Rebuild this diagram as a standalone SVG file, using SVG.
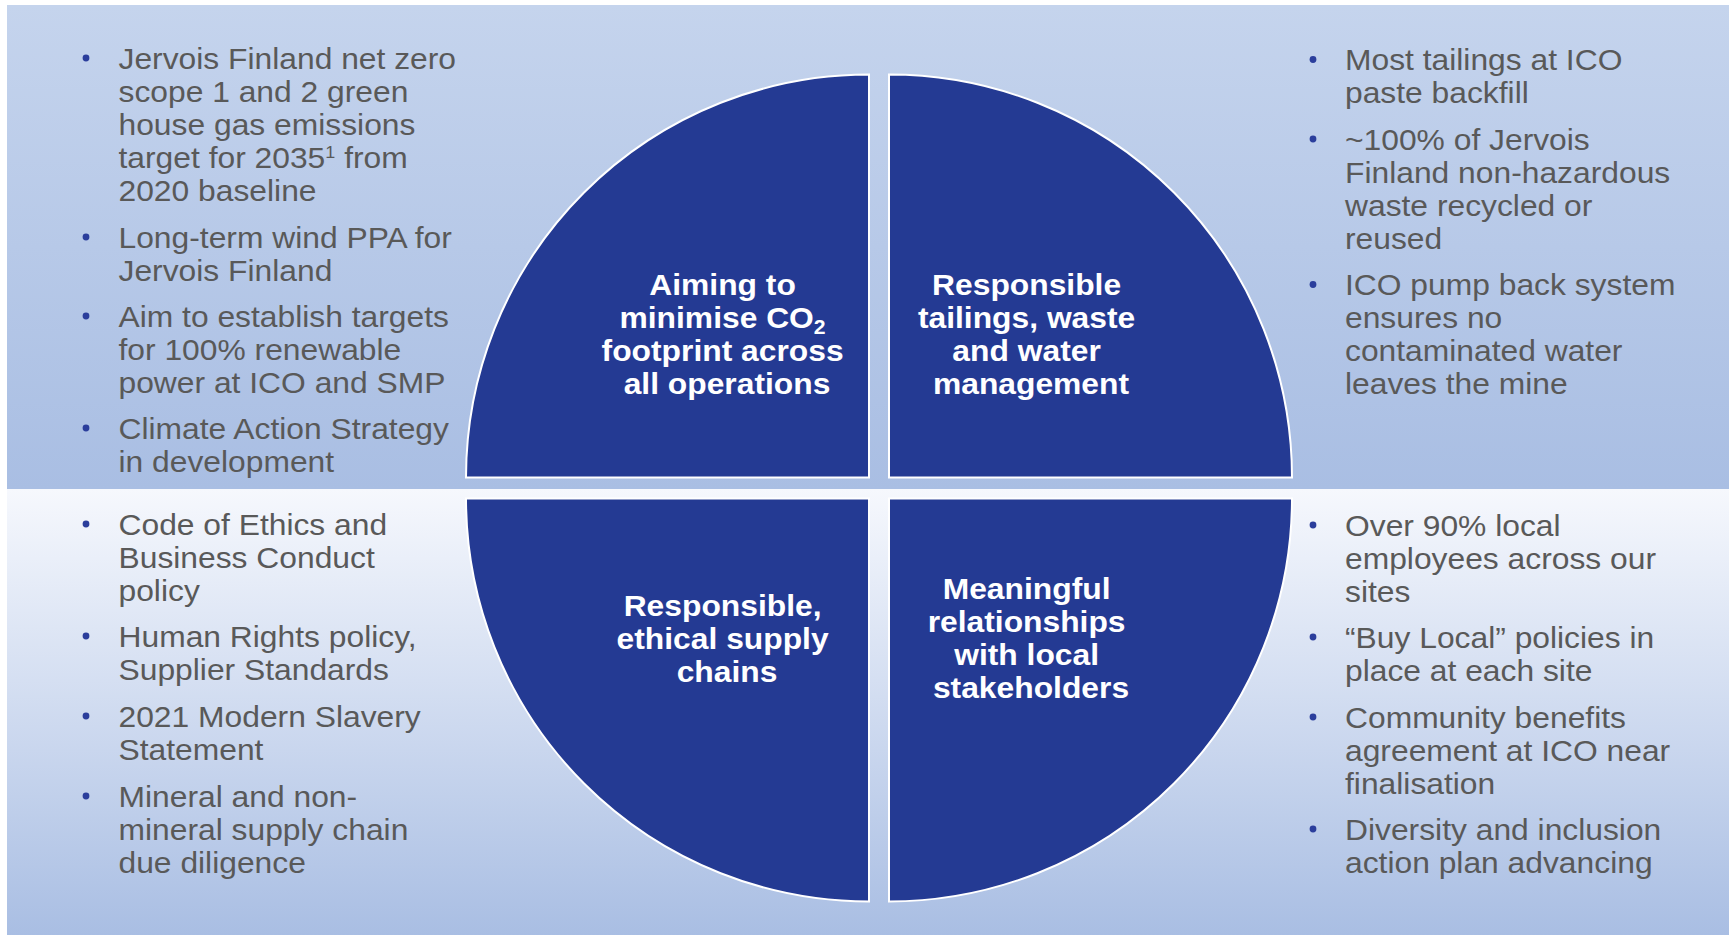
<svg xmlns="http://www.w3.org/2000/svg" width="1729" height="935" viewBox="0 0 1729 935">
  <defs>
    <linearGradient id="bgTop" x1="0" y1="0" x2="0" y2="1">
      <stop offset="0" stop-color="#C5D4ED"/>
      <stop offset="1" stop-color="#A9BEE3"/>
    </linearGradient>
    <linearGradient id="bgBottom" x1="0" y1="0" x2="0" y2="1">
      <stop offset="0" stop-color="#F6F8FD"/>
      <stop offset="1" stop-color="#A9BEE3"/>
    </linearGradient>
  </defs>
  <style>
    .quad { fill: #243A93; stroke: #FFFFFF; stroke-width: 2; }
    .label { font-family: "Liberation Sans", Arial, sans-serif; font-weight: bold; font-size: 30px; fill: #FFFFFF; text-anchor: middle; }
    .note { font-family: "Liberation Sans", Arial, sans-serif; font-size: 30px; fill: #595959; }
    .dot { fill: #2B3E9C; }
  </style>

  <!-- backdrop -->
  <rect x="0" y="0" width="1729" height="935" fill="#FFFFFF"/>
  <rect x="7" y="5" width="1722" height="484" fill="url(#bgTop)"/>
  <rect x="7" y="489" width="1722" height="446" fill="url(#bgBottom)"/>

  <!-- climate quadrant -->
  <g id="quad-climate">
    <path class="quad" d="M 869 477.5 L 466 477.5 A 403 403 0 0 1 869 74.5 Z"/>
    <text class="label" transform="translate(727 0) scale(1.06 1)">
      <tspan x="0" y="295.5">Aiming to</tspan>
      <tspan x="0" y="328">minimise CO<tspan font-size="20" dy="6">2</tspan></tspan>
      <tspan x="0" y="361">footprint across</tspan>
      <tspan x="0" y="394">all operations</tspan>
    </text>
  </g>

  <!-- tailings quadrant -->
  <g id="quad-tailings">
    <path class="quad" d="M 889 477.5 L 889 74.5 A 403 403 0 0 1 1292 477.5 Z"/>
    <text class="label" transform="translate(1031 0) scale(1.06 1)">
      <tspan x="0" y="295.5">Responsible</tspan>
      <tspan x="0" y="328">tailings, waste</tspan>
      <tspan x="0" y="361">and water</tspan>
      <tspan x="0" y="394">management</tspan>
    </text>
  </g>

  <!-- supply chain quadrant -->
  <g id="quad-supply">
    <path class="quad" d="M 869 498.5 L 869 901.5 A 403 403 0 0 1 466 498.5 Z"/>
    <text class="label" transform="translate(727 0) scale(1.06 1)">
      <tspan x="0" y="616.5">Responsible,</tspan>
      <tspan x="0" y="649.5">ethical supply</tspan>
      <tspan x="0" y="682.5">chains</tspan>
    </text>
  </g>

  <!-- stakeholders quadrant -->
  <g id="quad-stakeholders">
    <path class="quad" d="M 889 498.5 L 1292 498.5 A 403 403 0 0 1 889 901.5 Z"/>
    <text class="label" transform="translate(1031 0) scale(1.06 1)">
      <tspan x="0" y="599">Meaningful</tspan>
      <tspan x="0" y="632">relationships</tspan>
      <tspan x="0" y="665">with local</tspan>
      <tspan x="0" y="698">stakeholders</tspan>
    </text>
  </g>

  <!-- climate notes -->
  <g id="notes-climate">
    <circle class="dot" cx="86" cy="58" r="3.4"/>
    <circle class="dot" cx="86" cy="237" r="3.4"/>
    <circle class="dot" cx="86" cy="316" r="3.4"/>
    <circle class="dot" cx="86" cy="428" r="3.4"/>
    <text class="note" transform="translate(118.5 0) scale(1.06 1)">
      <tspan x="0" y="69">Jervois Finland net zero</tspan>
      <tspan x="0" y="102">scope 1 and 2 green</tspan>
      <tspan x="0" y="135">house gas emissions</tspan>
      <tspan x="0" y="168">target for 2035<tspan font-size="17" dy="-10">1</tspan><tspan dy="10"> from</tspan></tspan>
      <tspan x="0" y="201">2020 baseline</tspan>
      <tspan x="0" y="248">Long-term wind PPA for</tspan>
      <tspan x="0" y="281">Jervois Finland</tspan>
      <tspan x="0" y="327">Aim to establish targets</tspan>
      <tspan x="0" y="360">for 100% renewable</tspan>
      <tspan x="0" y="393">power at ICO and SMP</tspan>
      <tspan x="0" y="439">Climate Action Strategy</tspan>
      <tspan x="0" y="472">in development</tspan>
    </text>
  </g>

  <!-- tailings notes -->
  <g id="notes-tailings">
    <circle class="dot" cx="1313" cy="59.5" r="3.4"/>
    <circle class="dot" cx="1313" cy="139" r="3.4"/>
    <circle class="dot" cx="1313" cy="284.5" r="3.4"/>
    <text class="note" transform="translate(1345 0) scale(1.06 1)">
      <tspan x="0" y="70.5">Most tailings at ICO</tspan>
      <tspan x="0" y="103.5">paste backfill</tspan>
      <tspan x="0" y="150">~100% of Jervois</tspan>
      <tspan x="0" y="183">Finland non-hazardous</tspan>
      <tspan x="0" y="216">waste recycled or</tspan>
      <tspan x="0" y="249">reused</tspan>
      <tspan x="0" y="295.5">ICO pump back system</tspan>
      <tspan x="0" y="328.5">ensures no</tspan>
      <tspan x="0" y="361.5">contaminated water</tspan>
      <tspan x="0" y="394.5">leaves the mine</tspan>
    </text>
  </g>

  <!-- supply chain notes -->
  <g id="notes-supply">
    <circle class="dot" cx="86" cy="524" r="3.4"/>
    <circle class="dot" cx="86" cy="636" r="3.4"/>
    <circle class="dot" cx="86" cy="716" r="3.4"/>
    <circle class="dot" cx="86" cy="796" r="3.4"/>
    <text class="note" transform="translate(118.5 0) scale(1.06 1)">
      <tspan x="0" y="535">Code of Ethics and</tspan>
      <tspan x="0" y="568">Business Conduct</tspan>
      <tspan x="0" y="601">policy</tspan>
      <tspan x="0" y="647">Human Rights policy,</tspan>
      <tspan x="0" y="680">Supplier Standards</tspan>
      <tspan x="0" y="727">2021 Modern Slavery</tspan>
      <tspan x="0" y="760">Statement</tspan>
      <tspan x="0" y="807">Mineral and non-</tspan>
      <tspan x="0" y="840">mineral supply chain</tspan>
      <tspan x="0" y="873">due diligence</tspan>
    </text>
  </g>

  <!-- stakeholder notes -->
  <g id="notes-stakeholders">
    <circle class="dot" cx="1313" cy="525" r="3.4"/>
    <circle class="dot" cx="1313" cy="637" r="3.4"/>
    <circle class="dot" cx="1313" cy="717" r="3.4"/>
    <circle class="dot" cx="1313" cy="829" r="3.4"/>
    <text class="note" transform="translate(1345 0) scale(1.06 1)">
      <tspan x="0" y="536">Over 90% local</tspan>
      <tspan x="0" y="569">employees across our</tspan>
      <tspan x="0" y="602">sites</tspan>
      <tspan x="0" y="648">“Buy Local” policies in</tspan>
      <tspan x="0" y="681">place at each site</tspan>
      <tspan x="0" y="728">Community benefits</tspan>
      <tspan x="0" y="761">agreement at ICO near</tspan>
      <tspan x="0" y="794">finalisation</tspan>
      <tspan x="0" y="840">Diversity and inclusion</tspan>
      <tspan x="0" y="873">action plan advancing</tspan>
    </text>
  </g>

  <g id="connectors"></g>
</svg>
